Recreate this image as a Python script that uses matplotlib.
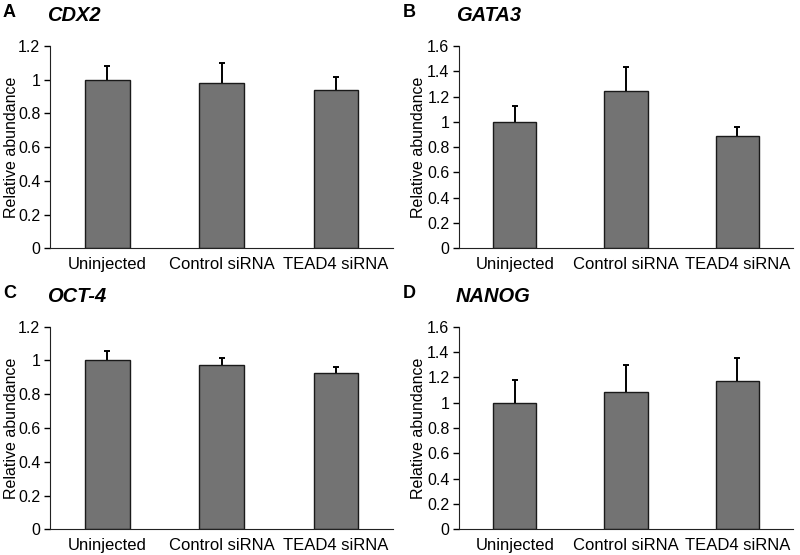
import numpy as np
import matplotlib.pyplot as plt

plt.rcParams['font.family'] = ['Liberation Sans', 'DejaVu Sans']

groups = ['Uninjected', 'Control siRNA', 'TEAD4 siRNA']

genes = ['CDX2', 'GATA3', 'OCT-4', 'NANOG']
letters = ['A', 'B', 'C', 'D']

cdx2_mean = [1.00, 0.98, 0.94]
cdx2_err = [0.08, 0.12, 0.075]
gata3_mean = [1.00, 1.245, 0.89]
gata3_err = [0.125, 0.19, 0.07]
oct4_mean = [1.00, 0.973, 0.924]
oct4_err = [0.055, 0.04, 0.035]
nanog_mean = [1.00, 1.087, 1.17]
nanog_err = [0.18, 0.21, 0.18]

means = [cdx2_mean, gata3_mean, oct4_mean, nanog_mean]
errs = [cdx2_err, gata3_err, oct4_err, nanog_err]
ymax = [1.2, 1.6, 1.2, 1.6]

fig = plt.figure(figsize=(8, 5.55), dpi=100)

# axes boxes in figure fractions [left, bottom, width, height]
boxes = [
    [0.0625, 0.5526, 0.429, 0.3645],
    [0.574, 0.5526, 0.417, 0.3645],
    [0.0625, 0.0463, 0.429, 0.3651],
    [0.574, 0.0463, 0.417, 0.3651],
]
# right edge of the rotated y label and left of the panel letter (figure pixels)
ylabel_px = [19, 426, 19, 426]
letter_px = [3, 403, 3, 403]

x = np.arange(len(groups))
for i in range(4):
    ax = fig.add_axes(boxes[i])
    ax.bar(x, means[i], width=0.39, color='#737373', edgecolor='#1a1a1a', linewidth=1.0, zorder=2)
    eb = ax.errorbar(x, means[i], yerr=[np.zeros(3), errs[i]], fmt='none', ecolor='black',
                     elinewidth=1.4, capsize=2.2, capthick=1.4, zorder=1)
    eb[1][0].set_visible(False)  # no lower cap
    ax.set_xlim(-0.5, 2.5)
    ax.set_ylim(0, ymax[i])
    ticks = np.arange(0, ymax[i] + 0.01, 0.2)
    ax.set_yticks(ticks)
    ax.set_yticklabels(['0' if v == 0 else ('1' if abs(v - 1) < 1e-9 else f'{v:.1f}') for v in ticks])
    ax.set_xticks(x)
    ax.set_xticklabels(groups)
    ax.tick_params(axis='x', length=0, labelsize=12, pad=6)
    ax.tick_params(axis='y', length=4, width=1, labelsize=11.5, direction='out', pad=3)
    ax.spines['top'].set_visible(False)
    ax.spines['right'].set_visible(False)
    ax.spines['left'].set_color('#222222')
    ax.spines['bottom'].set_color('#222222')
    ax.set_ylabel('Relative abundance', fontsize=11.5)
    left_px = boxes[i][0] * 800
    width_px = boxes[i][2] * 800
    ax.yaxis.set_label_coords((ylabel_px[i] - left_px) / width_px, 0.5)
    ax.text(-0.01, 1.15, genes[i], transform=ax.transAxes, fontsize=14.5,
            fontweight='bold', fontstyle='italic', ha='left', va='center')
    fig.text(letter_px[i] / 800, boxes[i][1] + boxes[i][3] + 0.06, letters[i],
             fontsize=13, fontweight='bold', ha='left', va='center')

fig.savefig('out.png', dpi=100)
